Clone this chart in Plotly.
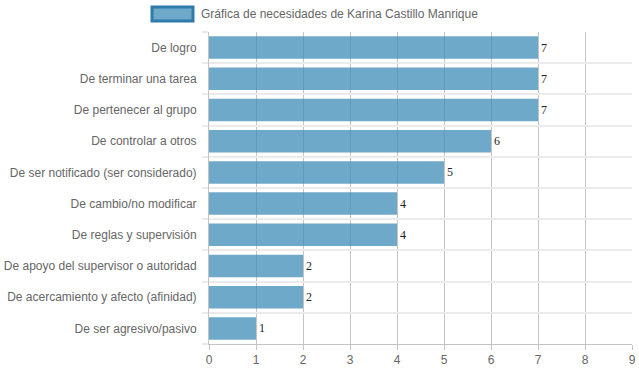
import plotly.graph_objects as go

categories = [
    "De logro",
    "De terminar una tarea",
    "De pertenecer al grupo",
    "De controlar a otros",
    "De ser notificado (ser considerado)",
    "De cambio/no modificar",
    "De reglas y supervisión",
    "De apoyo del supervisor o autoridad",
    "De acercamiento y afecto (afinidad)",
    "De ser agresivo/pasivo",
]
values = [7, 7, 7, 6, 5, 4, 4, 2, 2, 1]
series_name = "Gráfica de necesidades de Karina Castillo Manrique"
x_ticks = list(range(0, 10))

fig = go.Figure()
fig.add_trace(go.Bar(
    y=categories,
    x=values,
    orientation="h",
    name=series_name,
    marker=dict(color="rgba(62,140,184,0.75)", line=dict(width=0)),
    text=[str(v) for v in values],
    textposition="outside",
    textfont=dict(family="Liberation Serif, Times New Roman, serif", size=12, color="#222"),
    cliponaxis=False,
    showlegend=False,
    hoverinfo="x+y",
))
# invisible helper trace to carry gridlines between categories
fig.add_trace(go.Scatter(x=[None], y=[None], yaxis="y2", showlegend=False, hoverinfo="skip"))

fig.update_layout(
    width=639, height=372,
    margin=dict(l=209, r=7, t=32, b=28, autoexpand=False),
    paper_bgcolor="white",
    plot_bgcolor="white",
    bargap=0.28,
    font=dict(family="Liberation Sans, Arial, sans-serif", size=12, color="#666"),
    xaxis=dict(
        range=[0, 9], tickvals=x_ticks, ticktext=[str(t) for t in x_ticks],
        showgrid=True, gridcolor="#c4c4c4", gridwidth=1,
        zeroline=False, showline=True, linecolor="#c4c4c4", linewidth=1,
        ticks="outside", ticklen=5, tickcolor="#c4c4c4",
        tickfont=dict(size=12, color="#666"), automargin=False,
    ),
    yaxis=dict(
        type="category", autorange="reversed",
        showgrid=False, zeroline=False,
        showline=True, linecolor="#c4c4c4", linewidth=1,
        ticks="", ticklabelstandoff=9, automargin=False,
        tickfont=dict(size=12, color="#666"),
    ),
    yaxis2=dict(
        overlaying="y", side="left", range=[len(categories) - 0.5, -0.5],
        tick0=0.5, dtick=1, showticklabels=False,
        showgrid=True, gridcolor="#ebebeb", gridwidth=2,
        zeroline=False, showline=False, automargin=False,
        ticks="outside", ticklen=6, tickcolor="#ebebeb", tickwidth=2,
    ),
    showlegend=False,
)

# legend drawn as a box + label at top
fig.add_shape(
    type="rect", xref="paper", yref="paper",
    x0=(152 - 209) / 423, x1=(193 - 209) / 423,
    y0=1 + (32 - 21) / 312, y1=1 + (32 - 7) / 312,
    fillcolor="rgba(62,140,184,0.75)",
    line=dict(color="#2f7bab", width=3),
)
fig.add_annotation(
    text=series_name, xref="paper", yref="paper",
    x=(199 - 209) / 423, y=1 + (32 - 14) / 312,
    xanchor="left", yanchor="middle", showarrow=False,
    font=dict(size=12, color="#666"),
)

fig.write_html(
    "out.html",
    config={"displayModeBar": False},
    post_script="document.body.style.margin='0';document.body.style.overflow='hidden';",
)
